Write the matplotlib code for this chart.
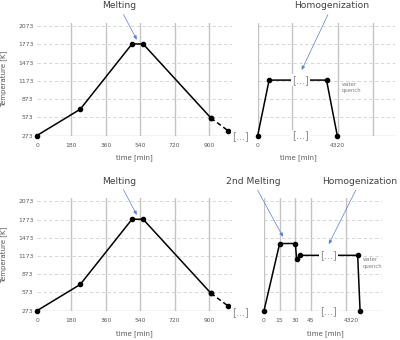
import matplotlib
matplotlib.use("Agg")
import matplotlib.pyplot as plt

plt.rcParams["font.family"] = "DejaVu Sans"

# melting schedule (same furnace run in both rows): time [min], temperature [K]
melt_t = [0, 226, 497, 555, 910]
melt_T = [273, 705, 1780, 1780, 560]
cool_t = [910, 1000]
cool_T = [560, 350]
melt_ticks = [0, 180, 360, 540, 720, 900]
melt_grid = [180, 360, 540, 720, 900]

# top row homogenization, broken time axis (x in grid steps)
hom_x = [0, 0.33, 1.99, 2.30]
hom_T = [273, 1185, 1185, 273]
hom_ticks = [0, 2.30]
hom_labels = ["0", "4320"]
hom_grid = [0, 1, 2.33, 3.32]

# bottom row 2nd melting + homogenization (min up to 45, then a break)
rem_x = [0, 15, 30, 31.3, 34.5, 89.7, 92]
rem_T = [273, 1380, 1380, 1120, 1185, 1185, 273]
rem_ticks = [0, 15, 30, 45, 84]
rem_labels = ["0", "15", "30", "45", "4320"]
rem_grid = [0, 15, 30, 45, 79]

temp_ticks = [273, 573, 873, 1173, 1473, 1773, 2073]

W, H = 400., 340.
fig = plt.figure(figsize=(4, 3.4), dpi=100)

def box(x0, x1, ytop, ybot):
    return [x0/W, 1-ybot/H, (x1-x0)/W, (ybot-ytop)/H]

def fpos(px, py):
    return (px/W, 1-py/H)

gridc = '#d0d0d0'
vgridc = '#c4c4c4'
txtc = '#595959'
arrowc = '#5b7fc9'
dot = '#7f7f7f'

def style(ax, vgrid, xlim, left_labels):
    ax.set_xlim(*xlim)
    ax.set_ylim(273, 2125)
    for s in ax.spines.values():
        s.set_visible(False)
    for T in temp_ticks[1:]:
        ax.axhline(T, color=gridc, lw=0.6, ls=(0, (4, 3)), zorder=0)
    ax.axhline(273, color=vgridc, lw=1.0, zorder=1)
    for v in vgrid:
        ax.axvline(v, color=vgridc, lw=1.0, zorder=0)
    ax.set_yticks(temp_ticks)
    ax.tick_params(length=0, labelsize=4.3, colors=txtc)
    ax.tick_params(axis='y', pad=2.6, labelleft=left_labels)
    ax.tick_params(axis='x', pad=5.2)

def gap_text(ax, x, y, coords='data'):
    ax.annotate("[...]", (x, y), xycoords=coords, ha='center', va='center',
                fontsize=7, color='#8c8c8c', annotation_clip=False, zorder=5,
                bbox=dict(boxstyle='square,pad=0.1', fc='white', ec='none'))

def arrow(ax, text, tip, tpos):
    ax.annotate(text, tip, xytext=tpos, textcoords='figure fraction',
                ha='center', va='center', fontsize=6.6, color='#404040',
                annotation_clip=False,
                arrowprops=dict(arrowstyle='-|>,head_length=0.35,head_width=0.15',
                                color=arrowc, lw=0.5, shrinkA=1, shrinkB=0))

rows = [(23, 135.5), (198.3, 310.7)]
for r, (ytop, ybot) in enumerate(rows):
    axL = fig.add_axes(box(37, 232, ytop, ybot))
    style(axL, melt_grid, (0, 1020), True)
    axL.set_xticks(melt_ticks)
    axL.plot(melt_t, melt_T, '-o', color='black', lw=1.1, ms=3, zorder=3, clip_on=False)
    axL.plot(cool_t, cool_T, '--o', color='black', lw=1.1, ms=3, zorder=3,
             dashes=(3, 2), clip_on=False)
    axL.text(-0.17, 0.5, "Temperature [K]", rotation=90, transform=axL.transAxes,
             ha='center', va='center', fontsize=5, color=txtc)
    fig.text(*fpos(134, ybot + 22.5), "time [min]", ha='center', va='center',
             fontsize=5, color=txtc)
    gap_text(axL, *fpos(240.5, ybot + 1), coords='figure fraction')
    arrow(axL, "Melting", (522, 1850), fpos(119, ybot - 129.5))

    if r == 0:
        axR = fig.add_axes(box(257.7, 395, ytop, ybot))
        style(axR, hom_grid, (0, 3.97), False)
        axR.set_xticks(hom_ticks, hom_labels)
        axR.plot(hom_x, hom_T, '-o', color='black', lw=1.1, ms=3, zorder=3, clip_on=False)
        gap_text(axR, 1.24, 1185)
        gap_text(axR, 1.24, 273)
        axR.text(2.43, 1060, "water\nquench", fontsize=3.8, color=dot,
                 ha='left', va='center', linespacing=1.3)
        fig.text(*fpos(298, ybot + 22.5), "time [min]", ha='center', va='center',
                 fontsize=5, color=txtc)
        arrow(axR, "Homogenization", (1.27, 1350), fpos(332, ybot - 129.5))
    else:
        axR = fig.add_axes(box(264, 382, ytop, ybot))
        style(axR, rem_grid, (0, 113), False)
        axR.set_xticks(rem_ticks, rem_labels)
        axR.plot(rem_x, rem_T, '-o', color='black', lw=1.1, ms=3, zorder=3, clip_on=False)
        gap_text(axR, 62, 1185)
        gap_text(axR, 62, 273)
        axR.text(95, 1060, "water\nquench", fontsize=3.8, color=dot,
                 ha='left', va='center', linespacing=1.3)
        fig.text(*fpos(325, ybot + 22.5), "time [min]", ha='center', va='center',
                 fontsize=5, color=txtc)
        arrow(axR, "2nd Melting", (18.2, 1490), fpos(253, ybot - 129))
        arrow(axR, "Homogenization", (62, 1370), fpos(360, ybot - 129))

fig.savefig("out.png", dpi=100)
